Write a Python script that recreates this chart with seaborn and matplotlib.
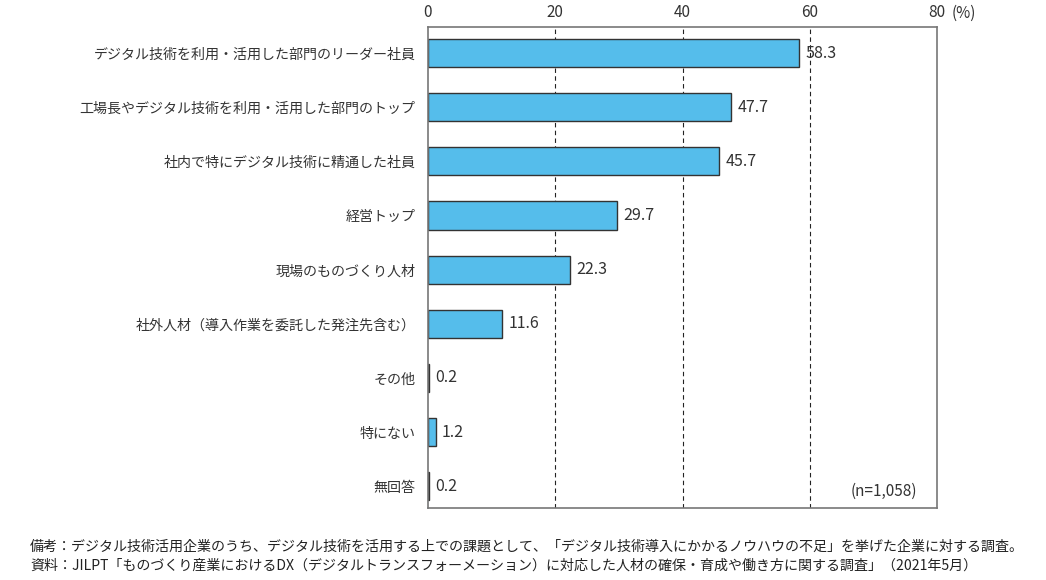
import matplotlib
matplotlib.use("Agg")
import matplotlib.pyplot as plt
import seaborn as sns
import pandas as pd

categories = [
    "デジタル技術を利用・活用した部門のリーダー社員",
    "工場長やデジタル技術を利用・活用した部門のトップ",
    "社内で特にデジタル技術に精通した社員",
    "経営トップ",
    "現場のものづくり人材",
    "社外人材（導入作業を委託した発注先含む）",
    "その他",
    "特にない",
    "無回答",
]
values = [58.3, 47.7, 45.7, 29.7, 22.3, 11.6, 0.2, 1.2, 0.2]
x_ticks = [0, 20, 40, 60, 80]
note_lines = [
    "備考：デジタル技術活用企業のうち、デジタル技術を活用する上での課題として、「デジタル技術導入にかかるノウハウの不足」を挙げた企業に対する調査。",
    "資料：JILPT「ものづくり産業におけるDX（デジタルトランスフォーメーション）に対応した人材の確保・育成や働き方に関する調査」（2021年5月）",
]
sample_note = "(n=1,058)"

sns.set_theme(style="white")
plt.rcParams["font.family"] = ["Noto Sans CJK JP", "DejaVu Sans"]

txt = "#333333"
df = pd.DataFrame({"cat": categories, "val": values})

fig = plt.figure(figsize=(10.46, 5.8), dpi=100)
ax = fig.add_axes([428 / 1046, 1 - 508 / 580, (937 - 428) / 1046, (508 - 27) / 580])

sns.barplot(data=df, x="val", y="cat", orient="h", color="#55BDEB",
            edgecolor="#333333", linewidth=1.0, width=0.52, saturation=1, ax=ax)

ax.set_xlim(0, 80)
ax.set_ylim(8.4, -0.48)
ax.set_xticks(x_ticks)
ax.xaxis.tick_top()
ax.tick_params(axis="x", length=0, pad=4, labelsize=11, labelcolor=txt)
ax.tick_params(axis="y", length=0, pad=9, labelsize=10.1, labelcolor=txt)
ax.set_xlabel("")
ax.set_ylabel("")
for t in x_ticks[1:-1]:
    ax.axvline(t, color="#222222", linestyle=(0, (4, 3)), linewidth=0.8, zorder=0)
for s in ax.spines.values():
    s.set_color("#777777")
    s.set_linewidth(1.2)

for i, v in enumerate(values):
    ax.text(v + 1.0, i, f"{v:.1f}", va="center", ha="left", fontsize=11.5, color=txt)

fig.text(952 / 1046, 1 - 13 / 580, "(%)", ha="left", va="center", fontsize=11, color=txt)
ax.text(0.96, 0.035, sample_note, transform=ax.transAxes, ha="right", va="center",
        fontsize=11, color=txt)

fig.text(30 / 1046, 1 - 547 / 580, note_lines[0], ha="left", va="center", fontsize=10.1, color="#222222")
fig.text(30 / 1046, 1 - 566 / 580, note_lines[1], ha="left", va="center", fontsize=10.1, color="#222222")

fig.savefig("out.png", dpi=100)
